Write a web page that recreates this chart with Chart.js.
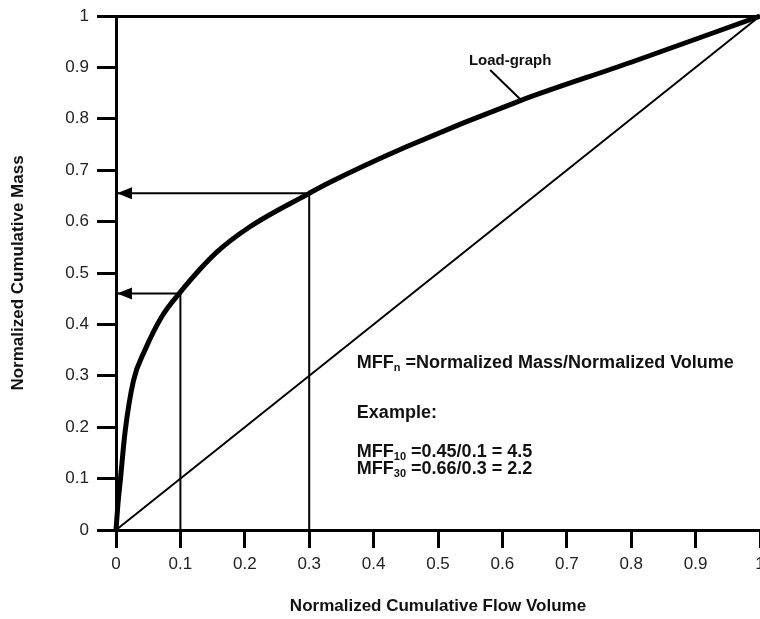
<!DOCTYPE html>
<html lang="en">
<head>
<meta charset="UTF-8">
<title>Load-graph</title>
<script src="https://cdn.jsdelivr.net/npm/chart.js"></script>
<style>
  html, body { margin: 0; padding: 0; background: #fff; }
  canvas { display: block; }
</style>
</head>
<body>
<canvas id="myChart" width="760" height="619"></canvas>
<script>
  // tick labels
  const xTickLabels = ['0', '0.1', '0.2', '0.3', '0.4', '0.5', '0.6', '0.7', '0.8', '0.9', '1'];
  const yTickLabels = ['0', '0.1', '0.2', '0.3', '0.4', '0.5', '0.6', '0.7', '0.8', '0.9', '1'];

  // load-graph
  const loadX = [0, 0.003, 0.007, 0.014, 0.027, 0.045, 0.071, 0.098, 0.156, 0.208, 0.3, 0.33, 0.45, 0.627, 0.8, 1];
  const loadY = [0, 0.05, 0.1, 0.19, 0.29, 0.35, 0.415, 0.46, 0.54, 0.59, 0.655, 0.675, 0.745, 0.835, 0.91, 1];

  // 1:1 line
  const diagX = [0, 1];
  const diagY = [0, 1];

  // read-off points (vertical line + arrow to the y axis)
  const readX = [0.1, 0.3];
  const readY = [0.46, 0.655];

  // label pointer for "Load-graph"
  const pointerX = [0.581, 0.627];
  const pointerY = [0.895, 0.839];

  // notes
  const noteLines = [
    ['MFF', 'n', ' =Normalized Mass/Normalized Volume'],
    ['Example:'],
    ['MFF', '10', ' =0.45/0.1 = 4.5'],
    ['MFF', '30', ' =0.66/0.3 = 2.2']
  ];
  const noteX = 0.374;
  const noteY = [0.315, 0.218, 0.142, 0.109];

  const FONT = "'Liberation Sans', Arial, sans-serif";

  const toPts = (xs, ys) => xs.map((x, i) => ({ x: x, y: ys[i] }));
  const line = (pts, w) => ({
    data: pts, showLine: true, borderColor: '#000', borderWidth: w,
    pointRadius: 0, fill: false, clip: false
  });

  const datasets = [
    line(toPts(diagX, diagY), 2),
    Object.assign(line(toPts(loadX, loadY), 5), { cubicInterpolationMode: 'monotone' }),
    line(toPts(pointerX, pointerY), 2)
  ];
  readX.forEach((x, i) => {
    datasets.push(line([{ x: x, y: 0 }, { x: x, y: readY[i] }], 2));
    datasets.push(line([{ x: x, y: readY[i] }, { x: 0, y: readY[i] }], 2));
  });

  // arrowheads + text
  const extras = {
    id: 'extras',
    afterDatasetsDraw(chart) {
      const c = chart.ctx, xs = chart.scales.x, ys = chart.scales.y;
      c.save();
      c.fillStyle = '#000';
      readY.forEach(v => {
        const px = xs.getPixelForValue(0) + 1, py = ys.getPixelForValue(v);
        c.beginPath();
        c.moveTo(px, py);
        c.lineTo(px + 15, py - 6);
        c.lineTo(px + 15, py + 6);
        c.closePath();
        c.fill();
      });

      c.fillStyle = '#111';
      c.textBaseline = 'alphabetic';
      c.font = 'bold 15px ' + FONT;
      c.textAlign = 'center';
      c.fillText('Load-graph', xs.getPixelForValue(0.612), ys.getPixelForValue(0.905));

      c.textAlign = 'left';
      noteLines.forEach((parts, i) => {
        let px = xs.getPixelForValue(noteX);
        const py = ys.getPixelForValue(noteY[i]);
        parts.forEach((t, j) => {
          const sub = parts.length === 3 && j === 1;
          c.font = (sub ? 'bold 11px ' : 'bold 18px ') + FONT;
          c.fillText(t, px, sub ? py + 3 : py);
          px += c.measureText(t).width;
        });
      });
      c.restore();
    }
  };

  const ctx = document.getElementById('myChart').getContext('2d');
  new Chart(ctx, {
    type: 'scatter',
    data: { datasets: datasets },
    plugins: [extras],
    options: {
      responsive: false,
      animation: false,
      layout: { padding: { top: 16, right: 0, left: 0, bottom: 0 } },
      plugins: { legend: { display: false }, tooltip: { enabled: false } },
      scales: {
        x: {
          type: 'linear', min: 0, max: 1,
          border: { display: true, color: '#000', width: 3 },
          grid: { drawOnChartArea: false, tickLength: 18, tickColor: '#000', tickWidth: 3 },
          ticks: {
            stepSize: 0.1, padding: 6, color: '#222',
            font: { family: FONT, size: 17 },
            callback: (v, i) => xTickLabels[i]
          },
          title: {
            display: true, text: 'Normalized Cumulative Flow Volume', color: '#111',
            font: { family: FONT, size: 17, weight: 'bold' }, padding: { top: 0, bottom: 2 }
          },
          afterFit(s) { s.height = 89; s.paddingLeft = 0; s.paddingRight = 0; }
        },
        y: {
          type: 'linear', min: 0, max: 1,
          border: { display: true, color: '#000', width: 3 },
          grid: {
            drawOnChartArea: true,
            color: c => (c.tick && c.tick.value === 1 ? '#000' : 'rgba(0,0,0,0)'),
            lineWidth: 3, tickLength: 19, tickColor: '#000', tickWidth: 3
          },
          ticks: {
            stepSize: 0.1, padding: 8, color: '#222',
            font: { family: FONT, size: 17 },
            callback: (v, i) => yTickLabels[i]
          },
          title: {
            display: true, text: 'Normalized Cumulative Mass', color: '#111',
            font: { family: FONT, size: 17, weight: 'bold' }, padding: { top: 8, bottom: 0 }
          },
          afterFit(s) { s.width = 116; s.paddingTop = 0; s.paddingBottom = 0; }
        }
      }
    }
  });
</script>
</body>
</html>
